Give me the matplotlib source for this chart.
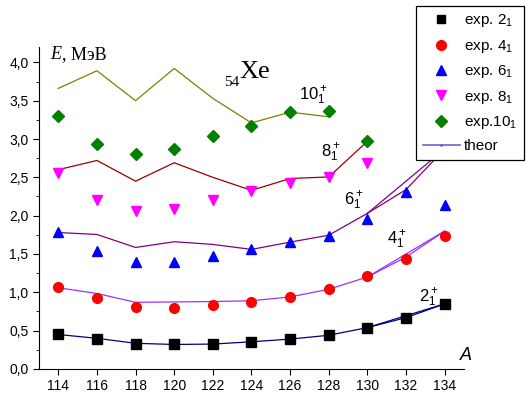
import matplotlib.pyplot as plt
import numpy as np
from matplotlib.lines import Line2D
from matplotlib.ticker import MultipleLocator, FuncFormatter

plt.rcParams['font.family'] = ['Liberation Sans', 'DejaVu Sans']
plt.rcParams['mathtext.fontset'] = 'custom'
plt.rcParams['mathtext.rm'] = 'Liberation Sans'
plt.rcParams['mathtext.it'] = 'Liberation Sans:italic'

# mass numbers of Xe isotopes
A = [114, 116, 118, 120, 122, 124, 126, 128, 130, 132, 134]

# experimental level energies, MeV
exp2 = [0.45, 0.39, 0.33, 0.32, 0.33, 0.355, 0.39, 0.44, 0.535, 0.67, 0.85]
exp4 = [1.07, 0.92, 0.81, 0.80, 0.83, 0.88, 0.94, 1.04, 1.21, 1.44, 1.73]
exp6 = [1.79, 1.54, 1.40, 1.40, 1.47, 1.56, 1.65, 1.74, 1.95, 2.31, 2.14]
A8 = [114, 116, 118, 120, 122, 124, 126, 128, 130]
exp8 = [2.55, 2.20, 2.06, 2.09, 2.21, 2.32, 2.42, 2.50, 2.69]
exp10 = [3.30, 2.93, 2.81, 2.87, 3.04, 3.17, 3.35, 3.36, 2.97]

# calculated energies
th2 = [0.45, 0.40, 0.335, 0.32, 0.325, 0.355, 0.39, 0.44, 0.54, 0.67, 0.85]
th4 = [1.06, 0.985, 0.87, 0.875, 0.88, 0.89, 0.94, 1.04, 1.20, 1.46, 1.80]
th6 = [1.78, 1.755, 1.585, 1.66, 1.625, 1.56, 1.655, 1.745, 2.03, 2.34, 2.87]
th8 = [2.60, 2.72, 2.45, 2.69, 2.50, 2.33, 2.485, 2.505, 2.97]
A10 = [114, 116, 118, 120, 122, 124, 126, 128]
th10 = [3.66, 3.89, 3.50, 3.92, 3.53, 3.21, 3.35, 3.29]

fig = plt.figure(figsize=(5.26, 3.99), dpi=100)
ax = fig.add_axes([0.0741, 0.0752, 0.808, 0.807])

# theory curves (second variant skips A=132)
for th, c in [(th2, '#000080'), (th4, '#9933ff'), (th6, '#800080')]:
    ax.plot(A, th, color=c, lw=0.9, zorder=2)
    ax.plot([A[8], A[10]], [th[8], th[10]], color=c, lw=0.9, zorder=2)
ax.plot(A8, th8, color='#990000', lw=0.9, zorder=2)
ax.plot(A10, th10, color='#808000', lw=0.9, zorder=2)

ms = 7
ax.plot(A, exp2, 's', color='black', ms=6.5, ls='none', zorder=3)
ax.plot(A, exp4, 'o', color='red', ms=ms, ls='none', zorder=3)
ax.plot(A, exp6, '^', color='blue', ms=ms, ls='none', zorder=3)
ax.plot(A8, exp8, 'v', color='magenta', ms=ms, ls='none', zorder=3)
ax.plot(A8, exp10, 'D', color='green', ms=6, ls='none', zorder=3)

ax.set_xlim(113, 135)
ax.set_ylim(0, 4.2)
ax.set_xticks(range(114, 135, 2))
ax.yaxis.set_major_locator(MultipleLocator(0.5))
ax.yaxis.set_minor_locator(MultipleLocator(0.25))
ax.yaxis.set_major_formatter(FuncFormatter(lambda v, p: f'{v:.1f}'.replace('.', ',')))
ax.spines['top'].set_visible(False)
ax.spines['right'].set_visible(False)
ax.tick_params(labelsize=10, direction='out', length=4)
ax.tick_params(which='minor', length=2.5)

# level labels
lab = dict(fontsize=12, ha='center', va='center')
ax.text(133.2, 0.93, r'$2^+_1$', **lab)
ax.text(131.5, 1.68, r'$4^+_1$', **lab)
ax.text(129.3, 2.2, r'$6^+_1$', **lab)
ax.text(128.1, 2.82, r'$8^+_1$', **lab)
ax.text(127.2, 3.56, r'$10^+_1$', **lab)

ax.text(113.6, 4.1, 'E', fontsize=13, family='Liberation Serif', style='italic', va='center')
ax.text(114.2, 4.1, ', МэВ', fontsize=13, family='Liberation Serif', va='center')
ax.text(122.6, 3.74, '54', fontsize=11, family='Liberation Serif', va='center')
ax.text(123.4, 3.88, 'Xe', fontsize=19, family='Liberation Serif', va='center')
ax.text(135.1, 0.18, 'A', fontsize=13, style='italic', ha='center', va='center',
        clip_on=False)

handles = [
    Line2D([], [], marker='s', color='black', ls='none', ms=6),
    Line2D([], [], marker='o', color='red', ls='none', ms=7),
    Line2D([], [], marker='^', color='blue', ls='none', ms=7),
    Line2D([], [], marker='v', color='magenta', ls='none', ms=7),
    Line2D([], [], marker='D', color='green', ls='none', ms=6),
    Line2D([], [], marker='.', color='#6666cc', lw=1.2, ms=2),
]
labels = ['exp. 2$_1$', 'exp. 4$_1$', 'exp. 6$_1$', 'exp. 8$_1$', 'exp.10$_1$', 'theor']
leg = fig.legend(handles, labels, loc='upper right', bbox_to_anchor=(0.997, 0.986),
                 fontsize=11, frameon=True, fancybox=False, framealpha=1,
                 edgecolor='black', handlelength=2.4, borderpad=0.45,
                 labelspacing=0.55, handletextpad=0.3, borderaxespad=0)
leg.get_frame().set_linewidth(0.9)

fig.savefig('out.png', dpi=100)
